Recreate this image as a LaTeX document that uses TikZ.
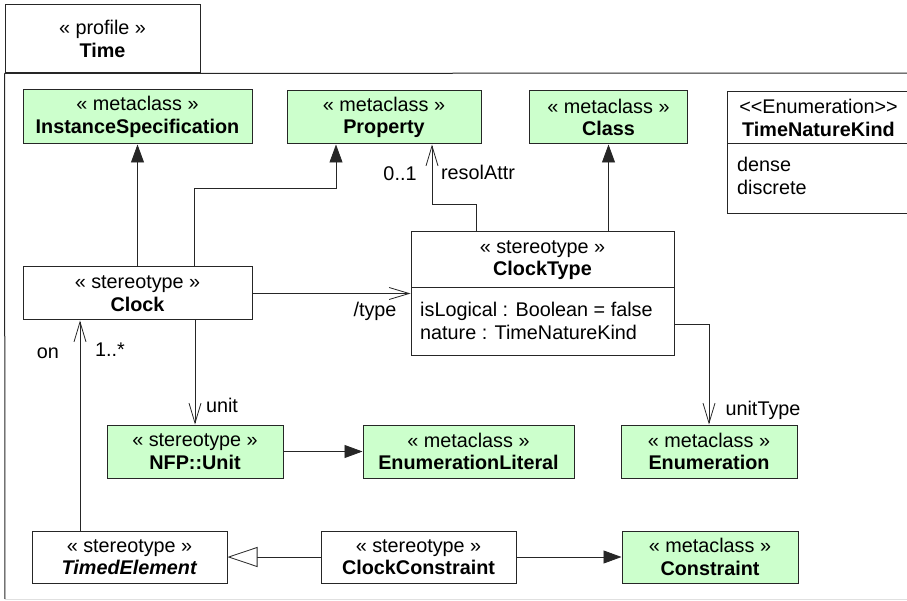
\documentclass[tikz,border=0pt]{standalone}
\usepackage{fontspec}
\setmainfont{Liberation Sans}
\usepackage{tikz}
\usetikzlibrary{arrows.meta, positioning}
\usepackage{xcolor}
\definecolor{metagreen}{RGB}{204,255,204}

\newcommand{\umlfont}{\fontsize{19.8}{22.5}\selectfont}

\tikzset{
  metabox/.style={draw=black!85, line width=1pt, fill=metagreen, align=center, inner sep=0pt, font=\umlfont},
  stereobox/.style={metabox, fill=white},
  conn/.style={line width=0.8pt, black!85},
  ext/.style={conn, -{Triangle[length=18pt,width=13pt]}},
  assoc/.style={conn, -{Straight Barb[length=20pt,width=12pt]}},
  gen/.style={conn, -{Triangle[open,length=30pt,width=20pt,fill=white]}},
  lbl/.style={font=\umlfont, inner sep=0pt},
}

\begin{document}
\begin{tikzpicture}[x=1pt,y=-1pt]
      \useasboundingbox (0,0) rectangle (907,601);
      % profile frame
      \node[stereobox, minimum width=195pt, minimum height=68pt] (tab) at (102.5,39) {« profile »\\\textbf{Time}};
      \draw[line width=1pt, black!85] (tab.south west) -- (5,599);
      \draw[line width=1pt, black!85] (tab.south west) -- (915,73);
      \draw[black!12, line width=1pt] (5,599) -- (915,599);

      % metaclasses
      \node[metabox, minimum width=229pt, minimum height=54pt] (inst) at (137.5,117) {« metaclass »\\\textbf{InstanceSpecification}};
      \node[metabox, minimum width=194pt, minimum height=53pt] (prop) at (384,117.5) {« metaclass »\\\textbf{Property}};
      \node[metabox, minimum width=158pt, minimum height=53pt] (cls) at (608.5,117.5) {« metaclass »\\\textbf{Class}};

      % enumeration
      \node[stereobox, minimum width=188pt, minimum height=52pt] (tnk) at (821,118) {\hspace*{-5pt}<\kern0pt<Enumeration>\kern0pt>\\\hspace*{-5pt}\textbf{TimeNatureKind}};
      \node[stereobox, minimum width=188pt, minimum height=70pt] (tnklit) at (821,179) {};
      \node[lbl, align=left, anchor=west] (tnkvals) at (737,176) {dense\\discrete};

      % stereotypes
      \node[stereobox, minimum width=229pt, minimum height=53pt] (clock) at (137.5,293.5) {« stereotype »\\\textbf{Clock}};
      \node[stereobox, minimum width=263pt, minimum height=56pt] (ctype) at (542.5,260) {« stereotype »\\\textbf{ClockType}};
      \node[stereobox, minimum width=263pt, minimum height=67pt] (ctypeattr) at (542.5,321.5) {};
      \node[lbl, align=left, anchor=west] (ctypevals) at (420,321) {isLogical : Boolean = false\\nature : TimeNatureKind};

      \node[metabox, minimum width=176pt, minimum height=53pt] (unit) at (195,451.5) {« stereotype »\\\textbf{NFP::Unit}};
      \node[metabox, minimum width=211pt, minimum height=53pt] (elit) at (468.5,451.5) {« metaclass »\\\textbf{EnumerationLiteral}};
      \node[metabox, minimum width=176pt, minimum height=53pt] (enum) at (709,451.5) {« metaclass »\\\textbf{Enumeration}};

      \node[stereobox, minimum width=195pt, minimum height=52pt] (timed) at (129.5,557) {« stereotype »\\\textbf{\textit{TimedElement}}};
      \node[stereobox, minimum width=195pt, minimum height=52pt] (ccons) at (418.5,557) {« stereotype »\\\textbf{ClockConstraint}};
      \node[metabox, minimum width=176pt, minimum height=52pt] (cons) at (710,557) {« metaclass »\\\textbf{Constraint}};

      % extensions
      \draw[ext] (clock.north) -- (inst.south);
      \draw[ext] ([xshift=56.5pt]clock.north) -- ++(0,-78) -| ([xshift=-48pt]prop.south);
      \draw[ext] (cls.south |- ctype.north) -- (cls.south);
      \draw[ext] (unit.east) -- (elit.west);
      \draw[ext] (ccons.east) -- (cons.west);
      \draw[gen] (ccons.west) -- (timed.east);

      % associations
      \draw[assoc] ([xshift=-66.5pt]ctype.north) -- ++(0,-27) -| ([xshift=48pt]prop.south);
      \node[lbl] (mresol) at (400,174) {0..1};
      \node[lbl] (resol) at (478,172) {resolAttr};

      \draw[assoc] (clock.east) -- (clock.east -| ctypeattr.west);
      \node[lbl] (typelbl) at (375,311) {/type};

      \draw[assoc] (clock.south -| unit) -- (unit.north);
      \node[lbl] (unitlbl) at (222,405) {unit};

      \draw[assoc] ([yshift=-2.5pt]ctypeattr.east) -| (enum.north);
      \node[lbl] (utlbl) at (763,410) {unitType};

      \draw[assoc] ([xshift=-49.5pt]timed.north) -- ([xshift=-49.5pt]timed.north |- clock.south);
      \node[lbl] (onlbl) at (48,353) {on};
      \node[lbl] (monlbl) at (110,350) {1..*};
\end{tikzpicture}
\end{document}
